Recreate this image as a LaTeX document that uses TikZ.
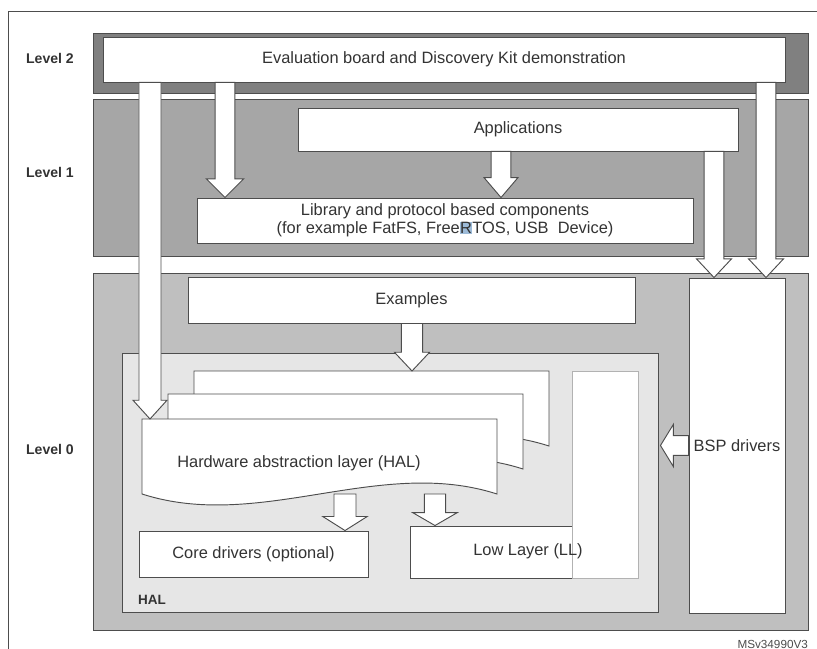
\documentclass[tikz,border=0pt]{standalone}
\usepackage{fontspec}
\setmainfont{Liberation Sans}
\usetikzlibrary{calc,fit}

\definecolor{lvltwo}{HTML}{808080}
\definecolor{lvlone}{HTML}{A6A6A6}
\definecolor{lvlzero}{HTML}{BFBFBF}
\definecolor{halgray}{HTML}{E6E6E6}
\definecolor{edge}{HTML}{4D4D4D}
\definecolor{selblue}{HTML}{9DBBD8}

% block arrow: start, tip, half shaft, half head, head length
\newcommand{\fatarrow}[5]{%
  \path #1 coordinate (fa-s) #2 coordinate (fa-t);
  \path ($(fa-t)!#5!(fa-s)$) coordinate (fa-h);
  \draw[fat] ($(fa-s)!#3!90:(fa-t)$) -- ($(fa-h)!#3!90:(fa-t)$) -- ($(fa-h)!#4!90:(fa-t)$)
    -- (fa-t) -- ($(fa-h)!#4!-90:(fa-t)$) -- ($(fa-h)!#3!-90:(fa-t)$) -- ($(fa-s)!#3!-90:(fa-t)$) -- cycle;}

\begin{document}
\begin{tikzpicture}[x=0.3mm, y=-0.3mm,
  every node/.style={font=\fontsize{14}{15.5}\selectfont, text=black!80},
  band/.style={draw=edge, line width=0.8pt, inner sep=0pt},
  box/.style={draw=edge, fill=white, line width=0.8pt, inner sep=0pt},
  fat/.style={draw=edge, fill=white, line width=0.8pt, line join=miter},
  lvl/.style={font=\fontsize{12}{14}\selectfont\bfseries, anchor=west},
  halpage/.pic={
    \draw[fat] (0,0) -- (355,0) -- (355,75) .. controls (237,37) and (118,113) .. (0,75) -- cycle;
    \coordinate (-tl) at (0,0);
    \coordinate (-bl) at (0,75);
  }]
  \useasboundingbox (0,0) rectangle (817,649);
  \draw[edge, line width=0.8pt] (817,11) -- (8,11) -- (8,649);

  % levels
  \node[band, fill=lvltwo, fit={(93,33) (808,93)}] (lvl2) {};
  \node[band, fill=lvlone, fit={(93,99) (808,256)}] (lvl1) {};
  \node[band, fill=lvlzero, fit={(93,273) (808,630)}] (lvl0) {};
  \node[lvl] (lvl2text) at (22,58) {Level 2};
  \node[lvl] (lvl1text) at (22,172) {Level 1};
  \node[lvl] (lvl0text) at (22,449) {Level 0};

  \node[box, fit={(103,37) (785,82)}] (evalbox) {};
  \node (evaltext) at (evalbox) {Evaluation board and Discovery Kit demonstration};
  \node[box, fit={(298,108) (738,151)}] (apps) {};
  \node (appstext) at (apps) {Applications};
  \node[box, fit={(197,198) (693,243)}] (lib) {};
  \node[align=center] (libtext) at (lib) {Library and protocol based components\\(for example FatFS, Free{\setlength\fboxsep{0.3pt}\colorbox{selblue}{R}}TOS, USB\ \ Device)};
  \node[box, fit={(188,277) (635,323)}] (examples) {};
  \node (examplestext) at (examples) {Examples};
  \node[box, fit={(689,278) (785,613)}] (bsp) {};
  \node (bsptext) at (bsp) {BSP drivers};

  % HAL
  \node[band, fill=halgray, fit={(122,353) (658,612)}] (halbox) {};
  \node[font=\fontsize{11.5}{13}\selectfont\bfseries, anchor=south west] (hallabel) at (134,609) {HAL};
  \pic (back) at (194,371) {halpage};
  \pic (mid) at (168,394) {halpage};
  \pic (front) at (142,419) {halpage};
  \node (hal) at (299,463) {Hardware abstraction layer (HAL)};
  \node[box, fit={(139,531) (368,577)}] (core) {};
  \node (coretext) at (core) {Core drivers (optional)};
  \node[box, fit={(410,526) (638,578)}] (llbox) {};
  \node[box, draw=black!30, fit={(572,371) (638,578)}] (llstrip) {};
  \node (ll) at (528,551) {Low Layer (LL)};

  % arrows
  \fatarrow{(evalbox.south -| 150,0)}{(front-tl -| 150,0)}{9.4pt}{14.5pt}{16pt}
  \fatarrow{(evalbox.south -| 225,0)}{(lib.north -| 225,0)}{8.5pt}{16pt}{16pt}
  \fatarrow{(apps.south -| 501,0)}{(lib.north -| 501,0)}{8.5pt}{14.5pt}{17pt}
  \fatarrow{(apps.south -| 714,0)}{(bsp.north -| 714,0)}{8.5pt}{15pt}{16pt}
  \fatarrow{(evalbox.south -| 766,0)}{(bsp.north -| 766,0)}{8.5pt}{15pt}{16pt}
  \fatarrow{(examples.south -| 412,0)}{(back-tl -| 412,0)}{9pt}{15pt}{16pt}
  \fatarrow{(front-bl -| 345,0)}{(core.north -| 345,0)}{9.4pt}{19pt}{12pt}
  \fatarrow{(front-bl -| 435,0)}{(llbox.north -| 435,0)}{9pt}{19pt}{11pt}
  \fatarrow{(bsp.west)}{($(halbox.east |- bsp.west)+(2,0)$)}{8.5pt}{18pt}{11pt}

  \node[font=\fontsize{10}{12}\selectfont, anchor=east, text=black!70] (code) at (812,644) {MSv34990V3};
\end{tikzpicture}
\end{document}
